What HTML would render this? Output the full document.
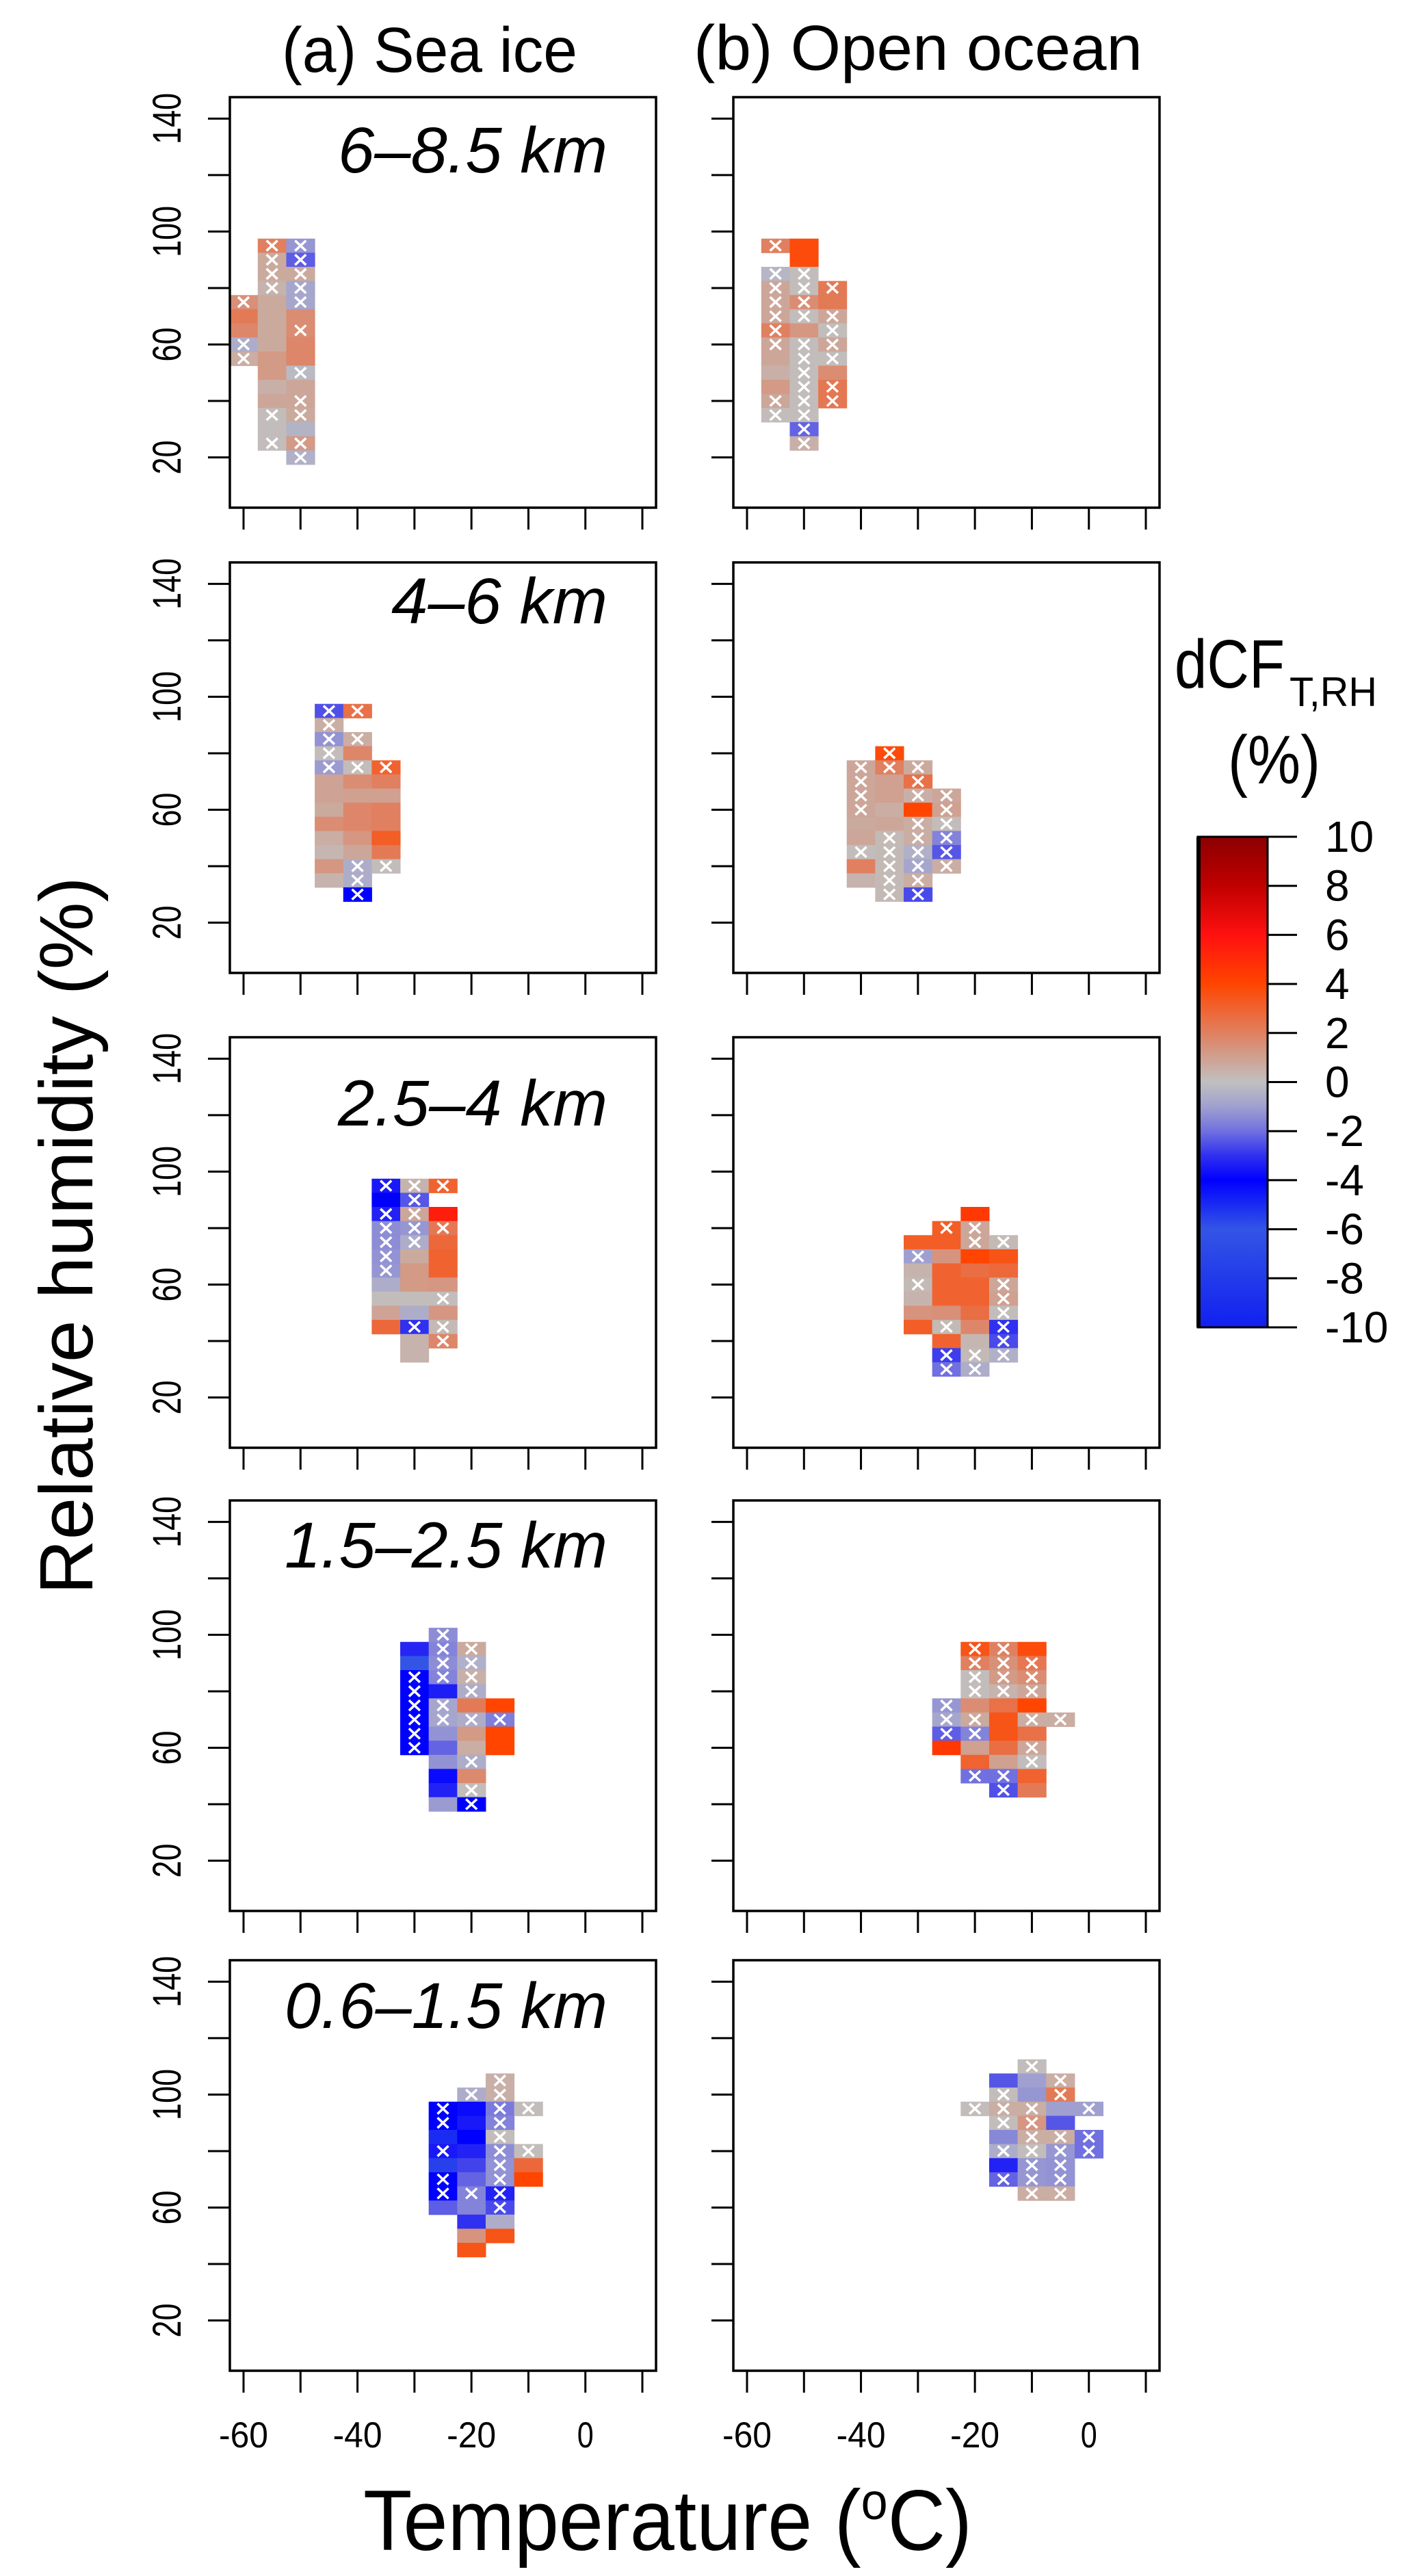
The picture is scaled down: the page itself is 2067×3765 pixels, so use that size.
<!DOCTYPE html>
<html>
<head>
<meta charset="utf-8">
<style>
html,body{margin:0;padding:0;background:#fff;}
svg{display:block;}
text{font-family:"Liberation Sans",Arial,sans-serif;fill:#000;}
</style>
</head>
<body>
<svg id="fig" width="2067" height="3765" viewBox="0 0 2067 3765" xmlns="http://www.w3.org/2000/svg">
<defs>
<linearGradient id="cbgrad" x1="0" y1="1" x2="0" y2="0">
<stop offset="0" stop-color="#1020f0"/>
<stop offset="0.2" stop-color="#3355e5"/>
<stop offset="0.3" stop-color="#0000ff"/>
<stop offset="0.35" stop-color="#3030f0"/>
<stop offset="0.4" stop-color="#7070e0"/>
<stop offset="0.45" stop-color="#a0a0d0"/>
<stop offset="0.5" stop-color="#c0c0c0"/>
<stop offset="0.55" stop-color="#d0a090"/>
<stop offset="0.6" stop-color="#e08060"/>
<stop offset="0.7" stop-color="#ff4500"/>
<stop offset="0.8" stop-color="#ff1010"/>
<stop offset="0.9" stop-color="#c00000"/>
<stop offset="1" stop-color="#8b0000"/>
</linearGradient>
</defs>
<text x="412" y="105" font-size="93" textLength="432" lengthAdjust="spacingAndGlyphs">(a) Sea ice</text>
<text x="1014" y="102" font-size="93" textLength="656" lengthAdjust="spacingAndGlyphs">(b) Open ocean</text>
<text transform="translate(135,1806) rotate(-90)" text-anchor="middle" font-size="110" textLength="1049" lengthAdjust="spacingAndGlyphs">Relative humidity (%)</text>
<text x="531" y="3727" font-size="125" textLength="890" lengthAdjust="spacingAndGlyphs">Temperature (<tspan font-size="75" dy="-45">o</tspan><tspan dy="45">C)</tspan></text>
<g>
<text x="1717" y="1005" font-size="100" textLength="161" lengthAdjust="spacingAndGlyphs">dCF</text>
<text x="1885" y="1032" font-size="60" textLength="128" lengthAdjust="spacingAndGlyphs">T,RH</text>
<text x="1795" y="1145" font-size="100" textLength="135" lengthAdjust="spacingAndGlyphs">(%)</text>
<rect x="1751" y="1223" width="102" height="717" fill="url(#cbgrad)" stroke="#000" stroke-width="3"/>
<rect x="1749" y="1223" width="6" height="717" fill="#000"/>
<g id="cbticks"></g>
</g>
<g id="panels"></g>
</svg>
<script>
// ---- data (T °C, top RH %, values top->bottom; "x" = marked, "_" = empty) ----
const colorbarTicks = [10,8,6,4,2,0,-2,-4,-6,-8,-10];
const yTickLabels = [140,100,60,20];
const xTickLabels = [-60,-40,-20,0];
const rowLabels = ["6\u20138.5 km","4\u20136 km","2.5\u20134 km","1.5\u20132.5 km","0.6\u20131.5 km"];

const seaIce1 = [
 [-60,75,"1.5x 2.2 1.8 -0.6x 0.6x"],
 [-55,95,"2x 0.7x 0.7x 0.4x 0.7 0.7 0.7 0.7 1.2 1.2 0.5 0.8 0.1x 0.1 0.1x"],
 [-50,95,"-1.2x -2.3x 0.7x -0.8x -0.8x 1.6 1.6x 1.8 1.8 -0.2x 0.8 0.8x 0.7x -0.4 1.2x -0.5x"]
];
const ocean1 = [
 [-55,95,"2x _ -0.3x 0.8x 0.8x 0.8x 2x 0.8x 0.8 0.5 1.2 0.8x 0.1x"],
 [-50,95,"3.8 3.8 0.1x 0.1x 1.6x 0.1x 1.3 0.1x 0.1x 0.1x 0.1x 0.1x 0.1x -2.2x 0.5x"],
 [-45,80,"2.2x 2.2 0.8x 0.1x 0.8x 0.1x 1.6 2.3x 2.3x"]
];
const seaIce2 = [
 [-45,95,"-2.5x 0.6x -1.3x 0.1x -1.1x 0.9 0.9 0.7 1.6 0.6 0.3 1.3 0.4"],
 [-40,95,"2.5x _ 0.6x 1.8 0.1x 1.6 1.0 1.8 1.8 1.3 0.8 -0.6x -0.6x -4x"],
 [-35,75,"3x 2 1 2 2 3.2 2.2 0.1x"]
];
const ocean2 = [
 [-40,75,"0.8x 0.8x 0.8x 0.8x 0.7 0.8 0.1x 2 0.4"],
 [-35,80,"3.8x 2x 1 1 0.6 0.8 0.2x 0.2x 0.2x 0.2x 0.2x"],
 [-30,75,"0.7x 2.5x 0.5x 4 0.6x 0.6x -0.5x -0.8x 0.6x -2.6x"],
 [-25,65,"0.8x 1x 0.1x -1.6x -2.4x 0.6x"]
];
const seaIce3 = [
 [-35,95,"-3.5x -4 -3.3x -1.4x -1.4x -1.3x -1.2x -0.6 0.1 0.9 2.8"],
 [-30,95,"0.4x -2.4x 0.8x -1.2x -0.6x 0.7 1.2 1.2 0.1 -0.6 -3x 0.4 0.4"],
 [-25,95,"3x _ 5.5 2.3x 2.8 3 3 1.3 0.1x 1.3 0.2x 1.8x"]
];
const ocean3 = [
 [-30,75,"3.2 -1x 0.4 0.2x 0.4 1.4 3.2"],
 [-25,80,"3.2x 3.2 1.4 3 3 3 1.5 0.2x 3 -2.8x -2x"],
 [-20,85,"4.5 0.8x 0.8x 4 2.6 3 3 2.6 1.8 0.3 0.2x -0.6x"],
 [-15,75,"0.2x 3.5 2.8 0.8x 1x 0.1x -3x -2.6x -0.5x"]
];
const seaIce4 = [
 [-30,95,"-3.2 -6 -4x -4x -4x -4x -4x -4x"],
 [-25,100,"-1.4x -1.6x -1.4x -1.6x -3.4 -0.8x -0.8x -1.3 -2.2 -1.3 -3.8 -3.3 -1.1"],
 [-20,95,"0.7x -0.5x 0.5x -0.6x 2.2 -0.6x 1.2 0.6 -0.6x 1.7 0.1x -4x"],
 [-15,75,"4 -1.7x 4 4"]
];
const ocean4 = [
 [-25,75,"-1.2x -0.8x -2.3x 4.5"],
 [-20,95,"3.5x 2x 0.1x 0.1x 1.6 0.7x -1.6x 1 3 -2x"],
 [-15,95,"2x 1.5x 1.2x 0.4x 2.5 3.5 3.5 2.6 1 -2x -2.5x"],
 [-10,95,"3.8 2.3x 1.6x 0.8x 4 0.6x 2.5 0.8x 0.1x 3 2.2"],
 [-5,70,"0.6x"]
];
const seaIce5 = [
 [-25,95,"-4x -4x -5 -3.5x -5.5 -4x -4x -2.3"],
 [-20,100,"-0.6x -3.8 -3.5 -4 -3.3 -2.7 -2.2 -1.6x -1.6 -3 1.4 3.5"],
 [-15,105,"0.5x 0.5x -1.8x -1.6x 0.1x -1.4x -1.3x -1.3x -3.3x -2.6x -0.6 3.5"],
 [-10,95,"0.1x _ _ 0.1x 2.8 4"]
];
const ocean5 = [
 [-20,95,"0.1x"],
 [-15,105,"-2.4 0.1x 0.6x 0.1x -1.5 -0.6x -3.3 -2.2x"],
 [-10,110,"0.1x -1 -1.2 0.6x 1.3x 0.6x 0.1x -1.2x -1.2x 0.6x"],
 [-5,105,"0.6x 2.2x -1 -2.4 0.6x -1.2x -1.3x -1.3x 0.6x"],
 [0,95,"-1x _ -2x -2x"]
];
const seaIcePanels = [seaIce1,seaIce2,seaIce3,seaIce4,seaIce5];
const oceanPanels = [ocean1,ocean2,ocean3,ocean4,ocean5];

// ---- layout ----
const NS = "http://www.w3.org/2000/svg";
const rowTops = [142,822,1516,2193,2865];
const labelOffsets = [110,89,129,98,99];
const labelLengths = [394,316,394,472,472];
const colLefts = [336,1072];
const PW = 623, PH = 600;
const XMIN = -62.4, XMAX = 12.4, YMIN = 2.2, YMAX = 147.6;
function xs(left, t){ return left + (t - XMIN) / (XMAX - XMIN) * PW; }
function ys(top, v){ return top + (YMAX - v) / (YMAX - YMIN) * PH; }

const stops = [[-10,"#1020f0"],[-6,"#3355e5"],[-4,"#0000ff"],[-3,"#3030f0"],[-2,"#7070e0"],[-1,"#a0a0d0"],[0,"#c0c0c0"],[1,"#d0a090"],[2,"#e08060"],[4,"#ff4500"],[6,"#ff1010"],[8,"#c00000"],[10,"#8b0000"]];
function hex(c){ return [1,3,5].map(i=>parseInt(c.substr(i,2),16)); }
function colorFor(v){
  v = Math.max(-10, Math.min(10, v));
  for (let i=0;i<stops.length-1;i++){
    const a=stops[i], b=stops[i+1];
    if (v>=a[0] && v<=b[0]){
      const f=(v-a[0])/(b[0]-a[0]); const ca=hex(a[1]), cb=hex(b[1]);
      return "rgb("+ca.map((x,k)=>Math.round(x+(cb[k]-x)*f)).join(",")+")";
    }
  }
  return "#c0c0c0";
}
function mk(tag, attrs, parent){
  const e=document.createElementNS(NS,tag);
  for (const k in attrs) e.setAttribute(k, attrs[k]);
  parent.appendChild(e); return e;
}

// colorbar ticks
const cbt = document.getElementById("cbticks");
colorbarTicks.forEach(v=>{
  const y = 1940 - (v+10)/20*717;
  const ln = mk("line",{x1:1853,x2:1896,y1:y,y2:y,stroke:"#000","stroke-width":3},cbt);
  
  
  const tx = mk("text",{x:1937,y:y,"font-size":64,"dominant-baseline":"central"},cbt);
  
  
  tx.textContent = String(v);
});

const panelsG = document.getElementById("panels");
function drawPanel(cols, r, c){
  const top=rowTops[r], left=colLefts[c];
  const g = mk("g",{},panelsG);
  
  
  const cw = xs(left,5)-xs(left,0), ch = ys(top,0)-ys(top,5);
  cols.forEach(col=>{
    const t=col[0], topRH=col[1], toks=col[2].split(" ");
    toks.forEach((tok,i)=>{
      if (tok==="_") return;
      const rh = topRH - 5*i, v=parseFloat(tok), sig=tok.indexOf("x")>=0;
      const cx = xs(left,t), cy = ys(top,rh);
      const rect = mk("rect",{x:cx-cw/2,y:cy-ch/2,width:cw+0.5,height:ch+0.5,fill:colorFor(v)},g);
      
      
      if (sig){
        const p = mk("path",{d:"M"+(cx-8)+" "+(cy-7.5)+"L"+(cx+8)+" "+(cy+7.5)+"M"+(cx+8)+" "+(cy-7.5)+"L"+(cx-8)+" "+(cy+7.5),stroke:"#fff","stroke-width":3.5,fill:"none"},g);
        
        
      }
    });
  });
  const frame = mk("rect",{x:left,y:top,width:PW,height:PH,fill:"none",stroke:"#000","stroke-width":3.5},g);
  
  
  for (let v=20; v<=140; v+=20){
    const y=ys(top,v);
    const tk = mk("line",{x1:left-32,x2:left,y1:y,y2:y,stroke:"#000","stroke-width":3},g);
    
    
  }
  if (c===0){
    yTickLabels.forEach(v=>{
      const y=ys(top,v);
      const tx = mk("text",{transform:"translate(264,"+y+") rotate(-90)","text-anchor":"middle","font-size":58,textLength:(String(v).length*25),lengthAdjust:"spacingAndGlyphs"},g);
      
      
      tx.textContent=String(v);
    });
    const lb = mk("text",{x:888,y:top+labelOffsets[r],"font-size":95,"font-style":"italic","text-anchor":"end",textLength:labelLengths[r],lengthAdjust:"spacingAndGlyphs"},g);
    
    
    lb.textContent=rowLabels[r];
  }
  for (let t=-60; t<=10; t+=10){
    const x=xs(left,t);
    const tk = mk("line",{x1:x,x2:x,y1:top+PH,y2:top+PH+32,stroke:"#000","stroke-width":3},g);
    
    
  }
  if (r===4){
    xTickLabels.forEach(t=>{
      const tx = mk("text",{x:xs(left,t),y:3577,"text-anchor":"middle","font-size":53,textLength:(String(t).length*24),lengthAdjust:"spacingAndGlyphs"},g);
      
      
      tx.textContent=String(t);
    });
  }
}
seaIcePanels.forEach((p,r)=>drawPanel(p,r,0));
oceanPanels.forEach((p,r)=>drawPanel(p,r,1));
</script>
</body>
</html>
